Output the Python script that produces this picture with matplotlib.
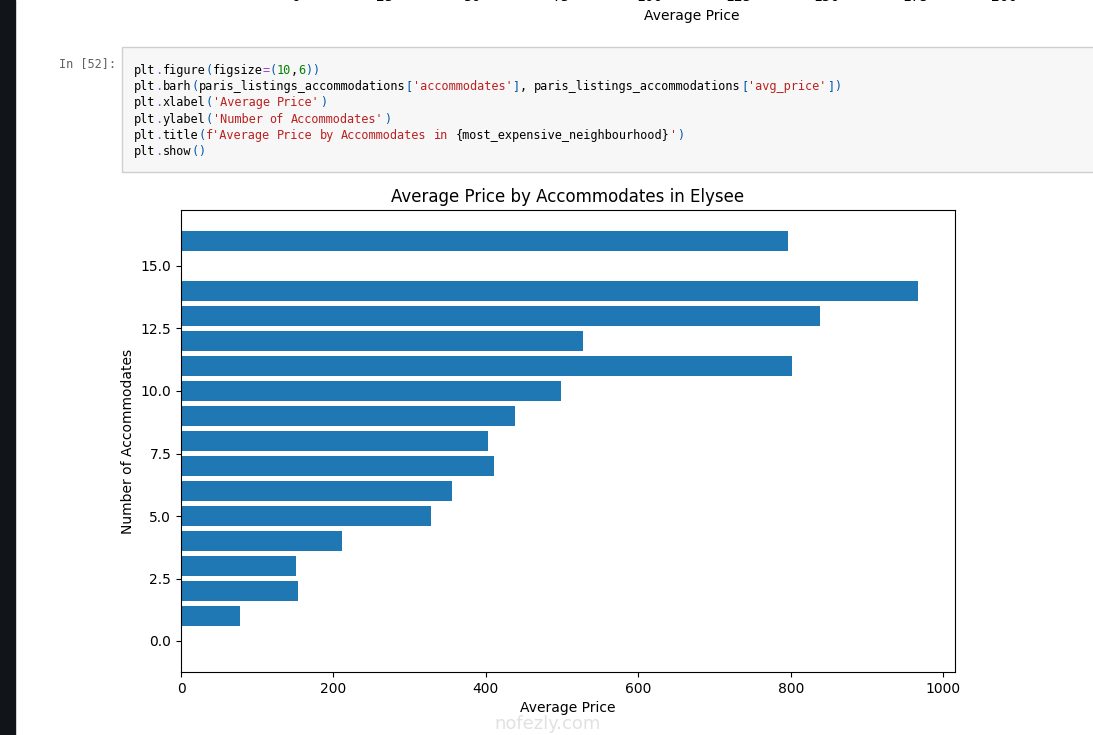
import re

import matplotlib

matplotlib.use("Agg")
import matplotlib.pyplot as plt
from matplotlib.patches import Rectangle

W, H = 1093, 735

# chart data
accommodates = [0, 1, 2, 3, 4, 5, 6, 7, 8, 9, 10, 11, 12, 13, 14, 16]
avg_price = [0, 78, 154, 151, 211, 328, 355, 410, 403, 438, 498, 801, 527, 838, 967, 796]
neighbourhood = "Elysee"

# previous cell's x axis, mostly scrolled out of view
prev_ticks = [0, 25, 50, 75, 100, 125, 150, 175, 200]

code_lines = [
    "plt.figure(figsize=(10,6))",
    "plt.barh(paris_listings_accommodations['accommodates'], paris_listings_accommodations['avg_price'])",
    "plt.xlabel('Average Price')",
    "plt.ylabel('Number of Accommodates')",
    "plt.title(f'Average Price by Accommodates in {most_expensive_neighbourhood}')",
    "plt.show()",
]

COLORS = {
    "text": "#000000",
    "op": "#9b3fd6",
    "paren": "#0055aa",
    "num": "#008000",
    "str": "#ba2121",
}


def fx(px):
    return px / W


def fy(py):
    return 1 - py / H


def tokenize(line):
    out = []
    for m in re.finditer(r"f'[^']*'|'[^']*'|\d+|[()\[\]]|[.=]|[A-Za-z_][A-Za-z_0-9]*|.", line):
        tok = m.group(0)
        if tok.startswith("f'"):
            for part in re.split(r"(\{[^}]*\})", tok):
                if part:
                    out.append((part, "text" if part.startswith("{") else "str"))
        elif tok.startswith("'"):
            out.append((tok, "str"))
        elif tok.isdigit():
            out.append((tok, "num"))
        elif tok in "()[]":
            out.append((tok, "paren"))
        elif tok in ".=":
            out.append((tok, "op"))
        else:
            out.append((tok, "text"))
    return out


fig = plt.figure(figsize=(W / 100, H / 100), dpi=100)

# dark sidebar strip on the left
fig.patches.append(Rectangle((0, 0), fx(15), 1, transform=fig.transFigure, color="#111418", zorder=0))

# bits of the previous output
for i, t in enumerate(prev_ticks):
    fig.text(fx(296 + i * 88.5), fy(1.0), str(t), ha="center", va="baseline", fontsize=10)
fig.text(fx(692), fy(16), "Average Price", ha="center", va="center", fontsize=10)

# code cell
fig.patches.append(
    Rectangle((fx(122), fy(172)), fx(990), 125 / H, transform=fig.transFigure,
              facecolor="#f7f7f7", edgecolor="#cfcfcf", linewidth=1, zorder=0)
)
mono = "DejaVu Sans Mono"
code_size = 8.54
char_w = 0.602 * code_size * 100 / 72
fig.text(fx(116), fy(67), "In [52]:", ha="right", va="baseline", fontsize=code_size,
         family=mono, color="#616161")
for row, line in enumerate(code_lines):
    col = 0
    y = 74 + row * 16.2
    for tok, kind in tokenize(line):
        # place each word by its character cell so the monospace grid holds
        pos = 0
        for word in tok.split(" "):
            if word:
                cx = 134 + (col + pos + len(word) / 2) * char_w
                fig.text(fx(cx), fy(y), word, ha="center", va="baseline",
                         fontsize=code_size, family=mono, color=COLORS[kind])
            pos += len(word) + 1
        col += len(tok)

# the chart itself
ax = fig.add_axes([fx(181), fy(672), fx(955 - 181), (672 - 210) / H])
ax.barh(accommodates, avg_price)
ax.set_xlabel("Average Price")
ax.set_ylabel("Number of Accommodates")
ax.set_title(f"Average Price by Accommodates in {neighbourhood}")

# faint site watermark
fig.text(fx(548), fy(724), "nofezly.com", ha="center", va="center", fontsize=13,
         color="#dadada", alpha=0.8)

fig.savefig("out.png", dpi=100)
